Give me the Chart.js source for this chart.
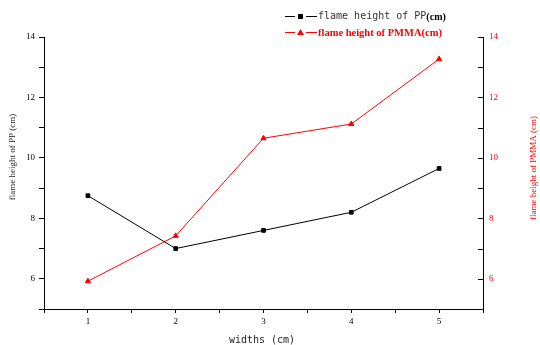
<!DOCTYPE html>
<html>
<head>
<meta charset="utf-8">
<script src="https://cdn.jsdelivr.net/npm/chart.js@4/dist/chart.umd.min.js"></script>
<style>
  body { margin: 0; background: #fff; }
  canvas { display: block; }
</style>
</head>
<body>
<canvas id="chart" width="540" height="345"></canvas>
<script>
// data
const widths = [1, 2, 3, 4, 5];
const ppHeight = [8.75, 7.0, 7.6, 8.2, 9.65];
const pmmaHeight = [5.92, 7.42, 10.65, 11.12, 13.27];
const yTickLabels = [6, 8, 10, 12, 14];
const xTickLabels = [1, 2, 3, 4, 5];

const serif = '"Liberation Serif", "DejaVu Serif", serif';
const mono = '"DejaVu Sans Mono", "Liberation Mono", monospace';

function toPoints(values) {
    return widths.map((w, i) => ({ x: w, y: values[i] }));
}

// titles, legend and inward ticks of the right axis
const decorations = {
    id: 'decorations',
    afterDraw(chart) {
        const ctx = chart.ctx;
        const area = chart.chartArea;
        const y1 = chart.scales.y1;
        ctx.save();

        // right axis ticks point inward
        ctx.strokeStyle = '#000';
        ctx.lineWidth = 1;
        for (let v = 5; v <= 14; v++) {
            const py = Math.round(y1.getPixelForValue(v)) + 0.5;
            ctx.beginPath();
            ctx.moveTo(area.right - 5, py);
            ctx.lineTo(area.right, py);
            ctx.stroke();
        }

        // axis titles
        ctx.textAlign = 'center';
        ctx.textBaseline = 'middle';
        ctx.fillStyle = '#222';
        ctx.font = '10px ' + mono;
        ctx.fillText('widths (cm)', 262, 340);

        ctx.save();
        ctx.translate(13, 157);
        ctx.rotate(-Math.PI / 2);
        ctx.font = '9px ' + serif;
        ctx.fillText('flame height of PP (cm)', 0, 0);
        ctx.restore();

        ctx.save();
        ctx.translate(534, 168);
        ctx.rotate(-Math.PI / 2);
        ctx.fillStyle = '#ff0000';
        ctx.font = '9px ' + serif;
        ctx.fillText('flame height of PMMA (cm)', 0, 0);
        ctx.restore();

        // legend
        const rows = [
            { color: '#000', y: 16, marker: 'rect' },
            { color: '#ff0000', y: 32, marker: 'triangle' }
        ];
        rows.forEach(r => {
            ctx.strokeStyle = r.color;
            ctx.fillStyle = r.color;
            ctx.lineWidth = 1;
            ctx.beginPath();
            ctx.moveTo(285, r.y + 0.5);
            ctx.lineTo(295, r.y + 0.5);
            ctx.moveTo(306, r.y + 0.5);
            ctx.lineTo(317, r.y + 0.5);
            ctx.stroke();
            if (r.marker === 'rect') {
                ctx.fillRect(298, r.y - 2, 5, 5);
            } else {
                ctx.beginPath();
                ctx.moveTo(300.5, r.y - 3);
                ctx.lineTo(304, r.y + 3);
                ctx.lineTo(297, r.y + 3);
                ctx.closePath();
                ctx.fill();
            }
        });
        ctx.textAlign = 'left';
        ctx.fillStyle = '#333';
        ctx.font = '10px ' + mono;
        ctx.fillText('flame height of PP', 318, 16);
        const w = ctx.measureText('flame height of PP').width;
        ctx.fillStyle = '#000';
        ctx.font = 'bold 10px ' + serif;
        ctx.fillText('(cm)', 318 + w, 17);
        ctx.fillStyle = '#ff0000';
        ctx.font = 'bold 10.5px ' + serif;
        ctx.fillText('flame height of PMMA(cm)', 318, 33);

        ctx.restore();
    }
};

const tickFont = { family: serif, size: 9 };

const chart = new Chart(document.getElementById('chart'), {
    type: 'line',
    data: {
        datasets: [{
            label: 'flame height of PP(cm)',
            data: toPoints(ppHeight),
            borderColor: '#000',
            backgroundColor: '#000',
            borderWidth: 1,
            pointStyle: 'rect',
            pointRadius: 2.6,
            pointHoverRadius: 2.6,
            yAxisID: 'y'
        }, {
            label: 'flame height of PMMA(cm)',
            data: toPoints(pmmaHeight),
            borderColor: '#ff0000',
            backgroundColor: '#ff0000',
            borderWidth: 1,
            pointStyle: 'triangle',
            pointRadius: 3,
            pointHoverRadius: 3,
            yAxisID: 'y1'
        }]
    },
    options: {
        responsive: false,
        animation: false,
        layout: { padding: { top: 37, left: 0, right: 0, bottom: 0 } },
        plugins: {
            legend: { display: false },
            tooltip: { enabled: false }
        },
        scales: {
            x: {
                type: 'linear',
                min: 0.5,
                max: 5.5,
                afterBuildTicks: s => { s.ticks = []; for (let v = 0.5; v <= 5.5; v += 0.5) s.ticks.push({ value: v }); },
                afterFit: s => { s.height = 36; },
                ticks: {
                    autoSkip: false,
                    maxRotation: 0,
                    padding: 3,
                    color: '#000',
                    font: tickFont,
                    callback: v => xTickLabels.includes(v) ? String(v) : ''
                },
                grid: { drawOnChartArea: false, tickLength: 4, color: '#000' },
                border: { color: '#000', width: 1 }
            },
            y: {
                position: 'left',
                min: 5,
                max: 14,
                afterBuildTicks: s => { s.ticks = []; for (let v = 5; v <= 14; v++) s.ticks.push({ value: v }); },
                afterFit: s => { s.width = 44; },
                ticks: {
                    autoSkip: false,
                    padding: 4,
                    color: '#000',
                    font: tickFont,
                    callback: v => yTickLabels.includes(v) ? String(v) : ''
                },
                grid: { drawOnChartArea: false, tickLength: 5, color: '#000' },
                border: { color: '#000', width: 1 }
            },
            y1: {
                position: 'right',
                min: 5,
                max: 14,
                afterBuildTicks: s => { s.ticks = []; for (let v = 5; v <= 14; v++) s.ticks.push({ value: v }); },
                afterFit: s => { s.width = 57; },
                ticks: {
                    autoSkip: false,
                    padding: 6,
                    color: '#ff0000',
                    font: tickFont,
                    callback: v => yTickLabels.includes(v) ? String(v) : ''
                },
                grid: { drawOnChartArea: false, drawTicks: false, color: '#000' },
                border: { color: '#000', width: 1 }
            }
        }
    },
    plugins: [decorations]
});
</script>
</body>
</html>
